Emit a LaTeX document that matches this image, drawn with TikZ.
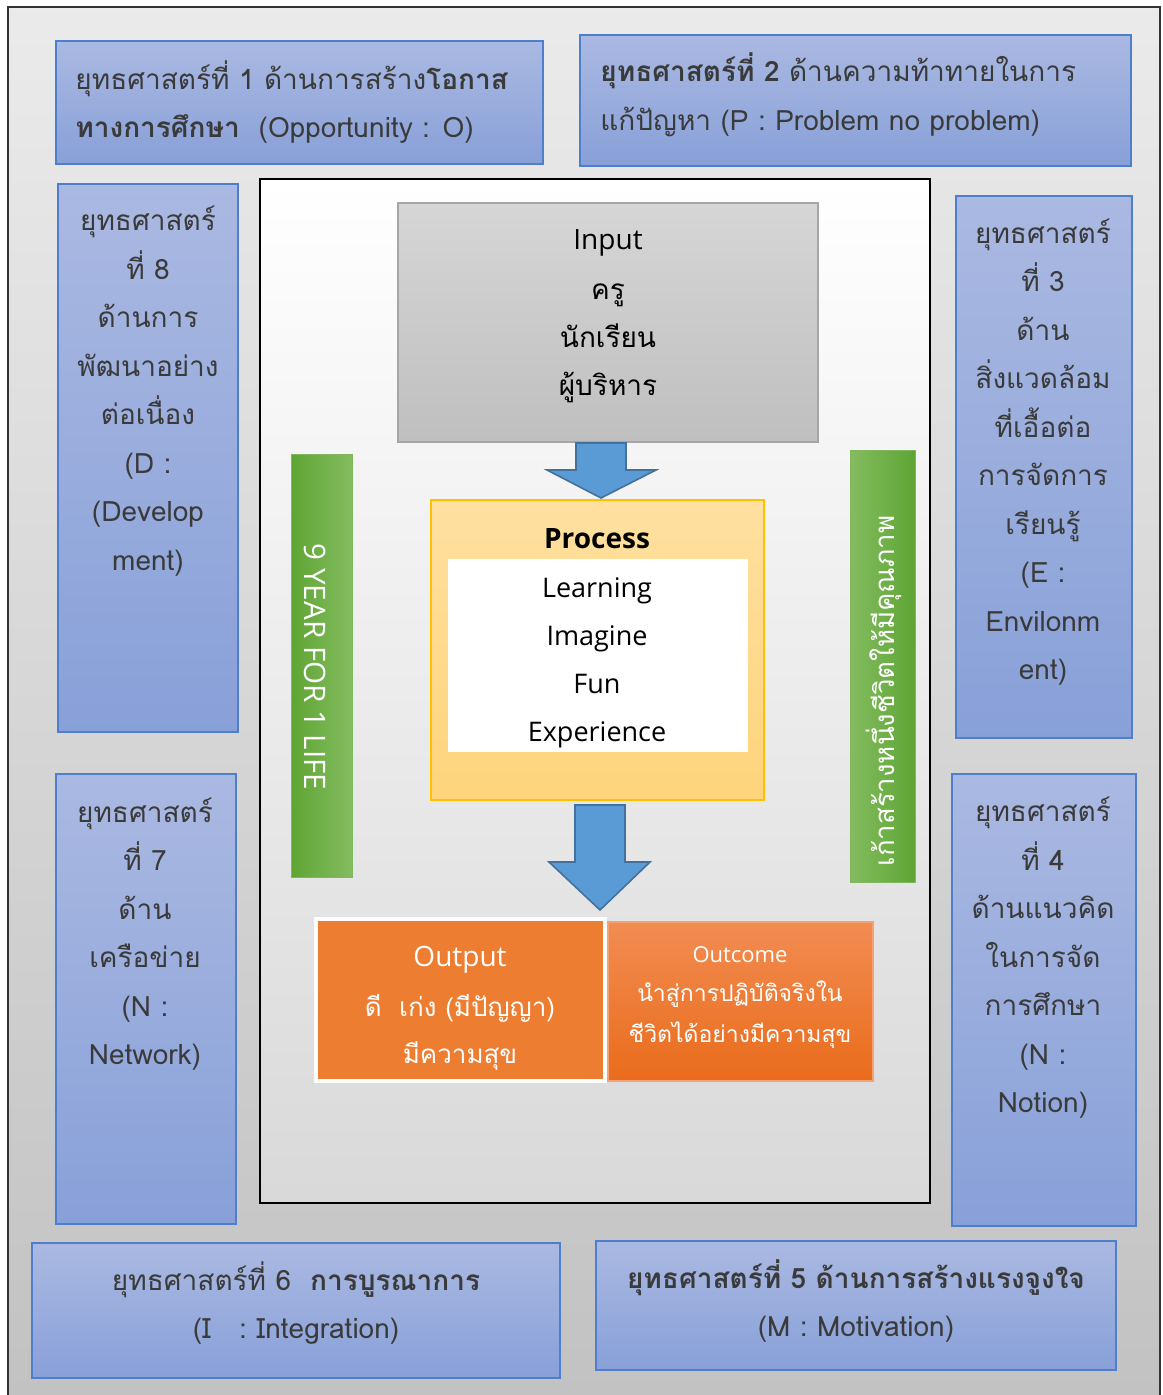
\documentclass[tikz,border=0pt]{standalone}
\usepackage{fontspec}
\setmainfont{Open Sans}
\newfontfamily\thaifont[Script=Thai]{Loma}
\usetikzlibrary{calc,fit}
\definecolor{btop}{HTML}{AAB9E2}
\definecolor{bbot}{HTML}{88A0D8}
\definecolor{bbord}{HTML}{4F7FCC}
\definecolor{btxt}{HTML}{3A3A3A}
\definecolor{itop}{HTML}{D6D6D6}
\definecolor{ibot}{HTML}{BFBFBF}
\definecolor{ibord}{HTML}{A6A6A6}
\definecolor{ptop}{HTML}{FFE0A0}
\definecolor{pbot}{HTML}{FED47C}
\definecolor{pbord}{HTML}{FFC000}
\definecolor{afill}{HTML}{5B9BD5}
\definecolor{abord}{HTML}{41719C}
\definecolor{ofill}{HTML}{ED7D31}
\definecolor{octop}{HTML}{F28C52}
\definecolor{ocbot}{HTML}{E96C1B}
\definecolor{ocbord}{HTML}{F4A274}
\definecolor{gdark}{HTML}{5EA534}
\definecolor{glight}{HTML}{84BC60}
\tikzset{
  x=0.5pt, y=-0.5pt,
  bluebox/.style={draw=bbord, line width=0.8pt, top color=btop, bottom color=bbot, inner sep=0pt},
  bluetext/.style={text=btxt, align=center, inner sep=0pt, font={\thaifont\fontsize{14}{24.25}\selectfont}},
  inputbox/.style={draw=ibord, line width=0.8pt, top color=itop, bottom color=ibot, inner sep=0pt},
  procbox/.style={draw=pbord, line width=0.8pt, top color=ptop, bottom color=pbot, inner sep=0pt},
  whitebox/.style={fill=white, inner sep=0pt},
  blockarrow/.style={fill=afill, draw=abord, line width=0.8pt, line join=miter},
  outbox/.style={fill=ofill, draw=white, line width=2pt, inner sep=0pt},
  outcomebox/.style={draw=ocbord, line width=0.6pt, top color=octop, bottom color=ocbot, inner sep=0pt},
  greenL/.style={draw=gdark!80!white, line width=0.5pt, left color=gdark, right color=glight, inner sep=0pt},
  greenR/.style={draw=gdark!80!white, line width=0.5pt, left color=glight, right color=gdark, inner sep=0pt},
  centertext/.style={text=black, align=center, inner sep=0pt, font={\fontsize{13.5}{24}\selectfont}},
  whitetext/.style={text=white, align=center, inner sep=0pt, font={\thaifont\fontsize{13}{23.5}\selectfont}},
}
\begin{document}
\begin{tikzpicture}
\useasboundingbox (0,0) rectangle (1162,1395);
\fill[white] (0,0) rectangle (1162,1395);
% outer frame
\node[fit={(8,7) (1160,1405)}, inner sep=0pt, draw=black!80, line width=0.8pt, top color=black!8, bottom color=black!24] (frame) {};
% inner white panel
\node[fit={(260,179) (930,1203)}, inner sep=0pt, draw=black, line width=0.7pt, top color=white, bottom color=black!15] (panel) {};

% strategy boxes
\node[bluebox, fit={(56,41) (543,164)}] (b1) {};
\node[bluetext, align=left, anchor=west] (t1) at (75,102)
  {ยุทธศาสตร์ที่ 1 ด้านการสร้าง\textbf{โอกาส}\\\textbf{ทางการศึกษา}\ \ (Opportunity : O)};
\node[bluebox, fit={(580,35) (1131,166)}] (b2) {};
\node[bluetext, align=left, anchor=west] (t2) at (600,95)
  {\textbf{ยุทธศาสตร์ที่ 2} ด้านความท้าทายในการ\\แก้ปัญหา (P : Problem no problem)};
\node[bluebox, fit={(58,184) (238,732)}] (b8) {};
\node[bluetext] (t8) at (148,391)
  {ยุทธศาสตร์\\ที่ 8\\ด้านการ\\พัฒนาอย่าง\\ต่อเนื่อง\\(D :\\(Develop\\ment)};
\node[bluebox, fit={(956,196) (1132,738)}] (b3) {};
\node[bluetext] (t3) at (1043,452)
  {ยุทธศาสตร์\\ที่ 3\\ด้าน\\สิ่งแวดล้อม\\ที่เอื้อต่อ\\การจัดการ\\เรียนรู้\\(E :\\Envilonm\\ent)};
\node[bluebox, fit={(56,774) (236,1224)}] (b7) {};
\node[bluetext] (t7) at (145,934)
  {ยุทธศาสตร์\\ที่ 7\\ด้าน\\เครือข่าย\\(N :\\Network)};
\node[bluebox, fit={(952,774) (1136,1226)}] (b4) {};
\node[bluetext] (t4) at (1043,958)
  {ยุทธศาสตร์\\ที่ 4\\ด้านแนวคิด\\ในการจัด\\การศึกษา\\(N :\\Notion)};
\node[bluebox, fit={(32,1243) (560,1378)}] (b6) {};
\node[bluetext] (t6) at (296,1303)
  {ยุทธศาสตร์ที่ 6\ \ \textbf{การบูรณาการ}\\(I\ \ \ : Integration)};
\node[bluebox, fit={(596,1241) (1116,1370)}] (b5) {};
\node[bluetext] (t5) at (856,1301)
  {\textbf{ยุทธศาสตร์ที่ 5 ด้านการสร้างแรงจูงใจ}\\(M : Motivation)};

% input
\node[inputbox, fit={(398,203) (818,442)}] (inp) {};
\node[centertext, font={\fontsize{14}{24}\selectfont}] (inptitle) at (608,243) {Input};
\node[text=black, align=center, inner sep=0pt, font={\thaifont\fontsize{14}{24}\selectfont}] (inptext) at (608,343)
  {ครู\\นักเรียน\\ผู้บริหาร};

% process
\node[procbox, fit={(431,500) (764,800)}] (proc) {};
\node[centertext, font={\bfseries\fontsize{14}{24}\selectfont}] (proctitle) at (597,539) {Process};
\node[whitebox, fit={(448,559) (748,752)}] (procin) {};
\node[centertext] (proctext) at (597,663) {Learning\\Imagine\\Fun\\Experience};

% arrows
\coordinate (a1) at (601,443);
\coordinate (a1t) at (601,498);
\draw[blockarrow] ($(a1)+(-25,0)$) -- ($(a1)+(25,0)$) -- ($(a1)+(25,27)$) -- ($(a1)+(55,27)$)
  -- (a1t) -- ($(a1)+(-54,27)$) -- ($(a1)+(-25,27)$) -- cycle;
\coordinate (a2) at (600,805);
\coordinate (a2t) at (600,910);
\draw[blockarrow] ($(a2)+(-25,0)$) -- ($(a2)+(25,0)$) -- ($(a2)+(25,57)$) -- ($(a2)+(50,57)$)
  -- (a2t) -- ($(a2)+(-51,57)$) -- ($(a2)+(-25,57)$) -- cycle;

% output / outcome
\node[outbox, fit={(316,919) (605,1081)}] (outp) {};
\node[text=white, inner sep=0pt, font={\fontsize{14}{24}\selectfont}] (outtitle) at (460,960) {Output};
\node[whitetext] (outtext) at (460,1032) {ดี\ \ เก่ง (มีปัญญา)\\มีความสุข};
\node[outcomebox, fit={(608,922) (873,1081)}] (outc) {};
\node[text=white, inner sep=0pt, font={\fontsize{11}{20}\selectfont}] (octitle) at (740,955) {Outcome};
\node[whitetext, font={\thaifont\fontsize{11.5}{20.5}\selectfont}] (octext) at (740,1015) {นำสู่การปฏิบัติจริงใน\\ชีวิตได้อย่างมีความสุข};

% green bars
\node[greenL, fit={(291,454) (352,877)}] (gL) {};
\node[text=white, inner sep=0pt, rotate=-90, font={\fontsize{14.8}{17}\selectfont}] (gLt) at (315,667) {9 YEAR FOR 1 LIFE};
\node[greenR, fit={(850,450) (915,882)}] (gR) {};
\node[text=white, inner sep=0pt, rotate=90, font={\thaifont\fontsize{13.8}{16}\selectfont}] (gRt) at (884,691) {เก้าสร้างหนึ่งชีวิตให้มีคุณภาพ};
\end{tikzpicture}
\end{document}
